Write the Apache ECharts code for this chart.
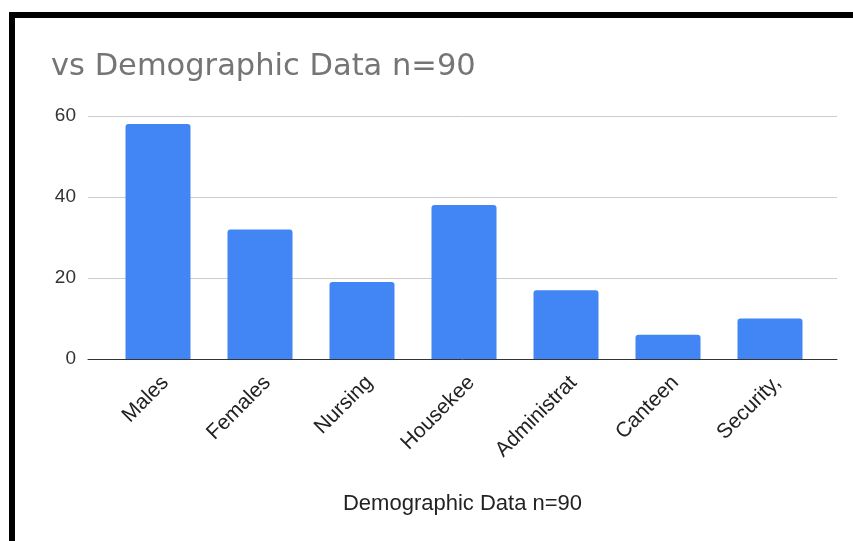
<!DOCTYPE html>
<html>
<head>
<meta charset="utf-8">
<style>
  html, body { margin: 0; padding: 0; background: #fff; }
  #chart { width: 853px; height: 541px; }
</style>
<script src="https://cdn.jsdelivr.net/npm/echarts@6/dist/echarts.min.js"></script>
</head>
<body>
<div id="chart"></div>
<script>
// Demographic breakdown of respondents
const categories = ['Males', 'Females', 'Nursing', 'Housekee', 'Administrat', 'Canteen', 'Security,'];
const counts = [58, 32, 19, 38, 17, 6, 10];
const yTicks = { min: 0, max: 60, step: 20 };
const chartTitle = 'vs Demographic Data n=90';
const axisTitle = 'Demographic Data n=90';

const chart = echarts.init(document.getElementById('chart'), null, { renderer: 'canvas' });

chart.setOption({
  backgroundColor: '#ffffff',
  animation: false,
  title: {
    text: chartTitle,
    left: 46,
    top: 47,
    textStyle: { fontFamily: 'DejaVu Sans', fontSize: 30.5, fontWeight: 'normal', color: '#757575' }
  },
  // frame lines along the top and left edge
  graphic: [
    { type: 'rect', shape: { x: 9, y: 12, width: 844, height: 6 }, style: { fill: '#000' }, silent: true },
    { type: 'rect', shape: { x: 9, y: 12, width: 6, height: 529 }, style: { fill: '#000' }, silent: true }
  ],
  grid: [
    // outer plot area: gridlines, baseline, value labels, axis title
    { left: 88, right: 16, top: 116, bottom: 182, containLabel: false },
    // inner band area holding the bars
    { left: 107, right: 32, top: 116, bottom: 182, containLabel: false }
  ],
  xAxis: [
    {
      gridIndex: 0,
      type: 'category',
      data: categories,
      axisTick: { show: false },
      axisLabel: { show: false },
      axisLine: { show: true, lineStyle: { color: '#333', width: 1 } },
      name: axisTitle,
      nameLocation: 'middle',
      nameGap: 134,
      nameTextStyle: { fontFamily: 'Liberation Sans', fontSize: 22, color: '#222' }
    },
    {
      gridIndex: 1,
      type: 'category',
      data: categories,
      axisTick: { show: false },
      axisLine: { show: false },
      axisLabel: {
        rotate: 45,
        margin: 13,
        verticalAlign: 'top',
        fontFamily: 'Liberation Sans',
        fontSize: 21,
        color: '#222',
        interval: 0
      }
    }
  ],
  yAxis: [
    {
      gridIndex: 0,
      type: 'value',
      min: yTicks.min,
      max: yTicks.max,
      interval: yTicks.step,
      axisLine: { show: false },
      axisTick: { show: false },
      axisLabel: { margin: 12, fontFamily: 'Liberation Sans', fontSize: 19, color: '#333' },
      splitLine: { lineStyle: { color: '#cccccc', width: 1 } }
    },
    {
      gridIndex: 1,
      type: 'value',
      min: yTicks.min,
      max: yTicks.max,
      interval: yTicks.step,
      show: false,
      splitLine: { show: false }
    }
  ],
  series: [
    {
      type: 'bar',
      xAxisIndex: 1,
      yAxisIndex: 1,
      data: counts,
      barWidth: 65,
      itemStyle: { color: '#4285F4', borderRadius: [3, 3, 0, 0] },
      z: 1
    }
  ]
});
</script>
</body>
</html>
